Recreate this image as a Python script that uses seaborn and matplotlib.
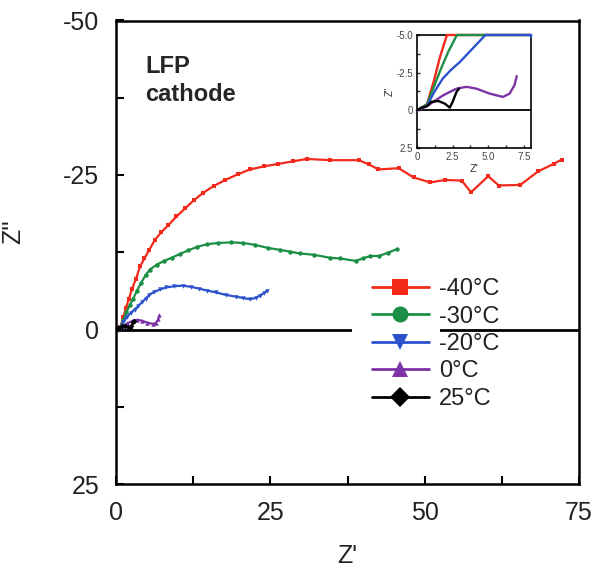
import numpy as np
import pandas as pd
import matplotlib
matplotlib.use("Agg")
import matplotlib.pyplot as plt
import seaborn as sns
from matplotlib.patches import Rectangle
from matplotlib.ticker import MultipleLocator

# ---- data ----
labels = ["-40°C", "-30°C", "-20°C", "0°C", "25°C"]
colors = ["#f2291b", "#1c8f46", "#2d53cc", "#7d32a6", "#000000"]
markers = ["s", "o", "v", "^", "D"]

x_m40 = [0, 0.7, 1.2, 1.6, 2.1, 2.6, 3.2, 3.9, 4.6, 5.4, 6.3, 7.3, 8.5, 9.8, 11.2,
         12.6, 14.1, 15.8, 17.7, 19.7, 21.7, 24.0, 26.3, 28.6, 30.9, 34.7, 39.3,
         41.0, 42.5, 45.8, 48.2, 50.9, 53.3, 56.0, 57.5, 60.3, 62.0, 65.5, 68.4,
         70.9, 72.2]
y_m40 = [0, -0.4, -2.0, -3.5, -5.0, -6.6, -8.1, -10.2, -11.5, -12.9, -14.5, -15.7,
         -16.9, -18.3, -19.6, -20.9, -22.1, -23.2, -24.2, -25.1, -25.9, -26.4,
         -26.8, -27.2, -27.6, -27.4, -27.4, -26.7, -25.9, -26.1, -24.6, -23.8,
         -24.2, -24.1, -22.2, -24.8, -23.3, -23.4, -25.6, -26.8, -27.5]

x_m30 = [0, 0.7, 1.2, 1.7, 2.2, 2.8, 3.4, 4.1, 4.8, 5.5, 6.6, 7.8, 9.0, 10.3,
         11.7, 13.2, 14.8, 16.5, 18.7, 20.6, 22.5, 24.6, 26.5, 28.2, 29.8, 32.0,
         34.7, 36.3, 38.8, 40.0, 41.2, 42.6, 44.0, 45.5]
y_m30 = [0, -0.4, -1.6, -2.8, -3.9, -5.0, -6.3, -7.6, -8.8, -9.7, -10.5, -11.1,
         -11.6, -12.2, -12.8, -13.4, -13.8, -14.0, -14.1, -14.0, -13.7, -13.2,
         -12.9, -12.6, -12.3, -12.1, -11.6, -11.5, -11.1, -11.5, -11.9, -11.9,
         -12.4, -13.0]

x_m20 = [0, 0.7, 1.2, 1.8, 2.4, 3.0, 3.6, 4.2, 4.8, 5.4, 6.2, 7.2, 8.1, 9.4,
         10.8, 12.2, 13.5, 14.8, 16.2, 17.8, 19.5, 20.6, 21.7, 22.6, 23.3, 24.0,
         24.5]
y_m20 = [0, -0.3, -1.2, -2.1, -2.7, -3.2, -3.8, -4.4, -5.0, -5.6, -6.1, -6.5,
         -6.8, -7.0, -7.1, -6.9, -6.6, -6.3, -6.0, -5.6, -5.3, -5.1, -4.9, -5.1,
         -5.5, -5.9, -6.3]

x_0 = [0, 0.68, 1.14, 1.84, 2.77, 3.47, 4.17, 5.1, 6.03, 6.5, 6.84, 7.0]
y_0 = [0, -0.27, -0.56, -1.0, -1.44, -1.56, -1.44, -1.11, -0.89, -1.11, -1.67, -2.27]

x_25 = [0, 0.33, 0.7, 1.0, 1.5, 1.96, 2.3, 2.5, 2.77, 2.95]
y_25 = [0, -0.18, -0.27, -0.56, -0.62, -0.44, -0.18, -0.56, -1.22, -1.44]

xs = [x_m40, x_m30, x_m20, x_0, x_25]
ys = [y_m40, y_m30, y_m20, y_0, y_25]

main_xticks = [0, 25, 50, 75]
main_yticks = [-50, -25, 0, 25]
inset_xticks = [0, 2.5, 5.0, 7.5]
inset_xticklabels = ["0", "2.5", "5.0", "7.5"]
inset_yticks = [-5.0, -2.5, 0, 2.5]
inset_yticklabels = ["-5.0", "-2.5", "0", "2.5"]

# ---- style ----
sns.set_style("ticks")
plt.rcParams['font.family'] = ['Liberation Sans', 'DejaVu Sans']
plt.rcParams['axes.unicode_minus'] = False

W, H = 597, 573
fig = plt.figure(figsize=(W / 100, H / 100), dpi=100)
L, R, T, B = 116, 579, 20.5, 484
ax = fig.add_axes([L / W, 1 - B / H, (R - L) / W, (B - T) / H])

for lab, x, y, c, m in zip(labels, xs, ys, colors, markers):
    df = pd.DataFrame({"Zre": x, "Zim": y})
    sns.lineplot(data=df, x="Zre", y="Zim", sort=False, estimator=None, color=c,
                 marker=m, markersize=3.2 if m != "D" else 2.8, markeredgewidth=0,
                 linewidth=1.6, ax=ax, legend=False, zorder=3)

ax.axhline(0, color="black", lw=2.0, zorder=2)
ax.set_xlim(0, 75)
ax.set_ylim(25, -50)
ax.set_xticks(main_xticks)
ax.set_yticks(main_yticks)
ax.xaxis.set_minor_locator(MultipleLocator(12.5))
ax.yaxis.set_minor_locator(MultipleLocator(12.5))
ax.tick_params(which="both", direction="in", length=6, width=1.5, colors="black",
               labelcolor="#222222", labelsize=18)
ax.tick_params(axis="x", which="both", pad=12)
ax.tick_params(axis="y", which="both", pad=12)
for s in ax.spines.values():
    s.set_linewidth(1.8)
    s.set_color("black")
ax.set_xlabel("Z'", fontsize=18, color="#222222", labelpad=14)
ax.set_ylabel("Z''", fontsize=18, color="#222222")
ax.yaxis.set_label_coords((25 - L) / (R - L), (B - 232) / (B - T))

ax.text((145 - L) / (R - L), (B - 55) / (B - T), "LFP\ncathode", transform=ax.transAxes,
        ha="left", va="top", fontsize=17, fontweight="bold", linespacing=1.3)

# white box behind legend handles (hides the zero line there, as in the reference)
ax.add_patch(Rectangle(((352 - L) / (R - L), (B - 335) / (B - T)), (440 - 352) / (R - L),
                       10 / (B - T), transform=ax.transAxes, facecolor="white",
                       edgecolor="none", zorder=2.5))

handles = ax.lines[:5]
leg = ax.legend(handles, labels, loc="center left",
                bbox_to_anchor=((372 - L) / (R - L), (B - 344) / (B - T)),
                frameon=False, fontsize=17, markerscale=3.6, handlelength=2.4,
                handletextpad=0.45, labelspacing=0.23, borderpad=0, borderaxespad=0)
for t in leg.get_texts():
    t.set_color("#222222")
for h in leg.legend_handles:
    h.set_linewidth(2.0)

# ---- inset ----
iL, iR, iT, iB = 417, 531, 35, 148
axin = fig.add_axes([iL / W, 1 - iB / H, (iR - iL) / W, (iB - iT) / H])
axin.set_facecolor("white")
for x, y, c in zip(xs, ys, colors):
    df = pd.DataFrame({"Zre": np.clip(x, 0, 8), "Zim": np.clip(y, -5, 2.5)})
    sns.lineplot(data=df, x="Zre", y="Zim", sort=False, estimator=None, color=c,
                 linewidth=1.7, ax=axin, legend=False, zorder=3, clip_on=False)
axin.axhline(0, color="black", lw=1.3, zorder=2)
axin.set_xlim(0, 8)
axin.set_ylim(2.5, -5)
axin.set_xticks(inset_xticks)
axin.set_xticklabels(inset_xticklabels)
axin.set_yticks(inset_yticks)
axin.set_yticklabels(inset_yticklabels)
axin.xaxis.set_minor_locator(MultipleLocator(1.25))
axin.yaxis.set_minor_locator(MultipleLocator(1.25))
axin.tick_params(which="both", direction="in", length=2.5, width=1.0, labelsize=7,
                 labelcolor="#444444", pad=3)
for s in axin.spines.values():
    s.set_linewidth(1.2)
    s.set_color("black")
axin.set_xlabel("Z'", fontsize=8, color="#333333", labelpad=1)
axin.set_ylabel("Z''", fontsize=7, color="#333333", labelpad=1)

fig.savefig("out.png", dpi=100)
